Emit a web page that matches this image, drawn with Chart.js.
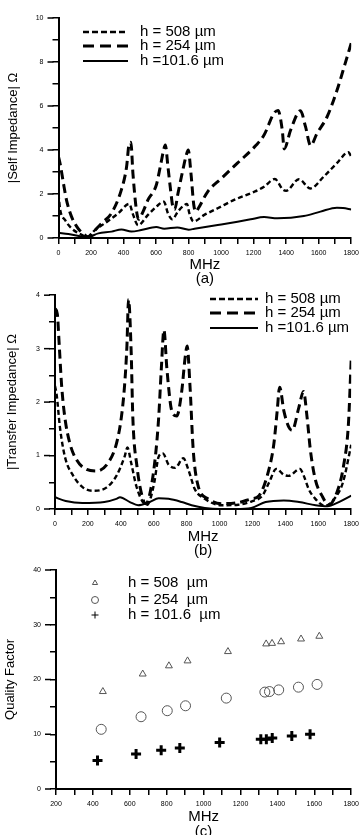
<!DOCTYPE html>
<html><head><meta charset="utf-8">
<script src="https://cdn.jsdelivr.net/npm/chart.js@4/dist/chart.umd.min.js"></script>
<style>
html,body{margin:0;padding:0;background:#fff;overflow:hidden;width:364px;height:835px;}
.p{position:absolute;left:0;width:364px;}
canvas{display:block;}
</style></head><body>
<div class="p" style="top:0px"><canvas id="ca" width="364" height="290"></canvas></div>
<div class="p" style="top:282px"><canvas id="cb" width="364" height="280"></canvas></div>
<div class="p" style="top:555px"><canvas id="cc" width="364" height="290"></canvas></div>
<script>
// ---------- DATA ----------
// Panel (a): |Self Impedance| (Ohm) vs MHz
const freqA254 = [0, 12, 30, 50, 80, 120, 165, 185, 205, 265, 326, 387, 418, 435, 445, 458, 479, 492, 520, 550, 601, 630, 645, 657, 673, 689, 703, 715, 734, 765, 785, 798, 815, 832, 845, 860, 917, 1000, 1100, 1213, 1264, 1325, 1350, 1376, 1388, 1427, 1488, 1519, 1550, 1590, 1651, 1712, 1763, 1800];
const selfA254 = [3.7, 3.3, 2.5, 1.7, 0.97, 0.44, 0.12, 0.05, 0.2, 0.67, 1.13, 2.2, 3.2, 4.3, 4.35, 2.9, 1.27, 0.85, 1.2, 1.73, 2.4, 3.4, 3.95, 4.23, 3.24, 2.2, 1.42, 1.3, 2.0, 3.1, 3.75, 4.0, 2.9, 1.5, 1.2, 1.35, 2.1, 2.7, 3.4, 4.2, 4.68, 5.67, 5.8, 4.9, 4.05, 4.9, 5.78, 5.06, 4.2, 4.76, 5.5, 6.7, 7.94, 8.85];
const freqA508 = [0, 10, 40, 80, 143, 175, 224, 285, 367, 435, 459, 489, 550, 601, 648, 673, 700, 734, 775, 790, 805, 830, 897, 979, 1080, 1203, 1264, 1330, 1380, 1400, 1478, 1549, 1631, 1712, 1783, 1800];
const selfA508 = [2.0, 1.3, 0.82, 0.44, 0.14, 0.05, 0.36, 0.67, 1.12, 1.55, 1.05, 0.58, 1.05, 1.42, 1.65, 1.12, 0.85, 1.2, 1.5, 1.55, 1.12, 0.75, 1.05, 1.35, 1.73, 2.1, 2.33, 2.68, 2.2, 2.15, 2.67, 2.25, 2.79, 3.4, 3.9, 3.7];
const freqA101 = [0, 61, 143, 175, 245, 326, 387, 448, 509, 601, 650, 730, 800, 836, 979, 1101, 1182, 1264, 1346, 1509, 1611, 1712, 1750, 1800];
const selfA101 = [0.24, 0.18, 0.06, 0.03, 0.21, 0.29, 0.39, 0.29, 0.36, 0.5, 0.42, 0.48, 0.38, 0.42, 0.59, 0.74, 0.85, 0.95, 0.9, 1.0, 1.2, 1.38, 1.36, 1.3];

// Panel (b): |Transfer Impedance| (Ohm) vs MHz
const freqB254 = [0, 14, 26, 40, 60, 91, 131, 192, 252, 322, 373, 403, 423, 437, 447, 463, 473, 498, 534, 552, 574, 610, 630, 646, 662, 680, 710, 740, 770, 790, 803, 820, 840, 870, 931, 1012, 1113, 1193, 1240, 1300, 1330, 1350, 1365, 1391, 1421, 1441, 1482, 1510, 1532, 1552, 1582, 1622, 1663, 1713, 1753, 1783, 1800];
const transB254 = [3.75, 3.65, 3.05, 2.32, 1.71, 1.22, 0.92, 0.74, 0.71, 0.86, 1.22, 1.71, 2.32, 3.05, 3.92, 2.93, 1.71, 0.8, 0.19, 0.1, 0.25, 0.98, 1.71, 2.62, 3.35, 2.62, 1.83, 1.74, 2.2, 2.81, 3.05, 2.32, 1.1, 0.43, 0.19, 0.1, 0.12, 0.19, 0.25, 0.74, 1.22, 1.83, 2.28, 1.83, 1.53, 1.47, 1.9, 2.2, 1.71, 1.1, 0.55, 0.25, 0.08, 0.31, 0.8, 1.59, 2.8];
const freqB508 = [0, 10, 30, 60, 111, 171, 232, 312, 373, 423, 440, 463, 494, 534, 560, 575, 603, 630, 655, 690, 730, 780, 810, 850, 910, 1012, 1113, 1193, 1260, 1300, 1345, 1391, 1420, 1488, 1512, 1542, 1582, 1640, 1700, 1750, 1800];
const transB508 = [2.3, 2.14, 1.53, 0.98, 0.62, 0.4, 0.34, 0.4, 0.62, 0.98, 1.15, 0.86, 0.43, 0.13, 0.08, 0.15, 0.49, 0.98, 1.04, 0.83, 0.77, 0.95, 0.74, 0.37, 0.19, 0.07, 0.08, 0.14, 0.25, 0.49, 0.75, 0.64, 0.62, 0.75, 0.62, 0.37, 0.19, 0.06, 0.2, 0.5, 1.2];
const freqB101 = [0, 65, 166, 300, 373, 395, 455, 505, 575, 630, 690, 770, 830, 910, 1000, 1100, 1193, 1280, 1390, 1483, 1584, 1655, 1725, 1800];
const transB101 = [0.22, 0.15, 0.11, 0.13, 0.19, 0.22, 0.13, 0.07, 0.13, 0.2, 0.19, 0.13, 0.07, 0.02, 0.0, 0.0, 0.02, 0.13, 0.16, 0.13, 0.07, 0.05, 0.13, 0.25];

// Panel (c): Quality Factor vs MHz
const freqC508 = [454, 670, 812, 913, 1132, 1339, 1371, 1420, 1528, 1627];
const qC508 = [17.8, 21.0, 22.5, 23.4, 25.1, 26.5, 26.6, 26.9, 27.4, 27.9];
const freqC254 = [445, 661, 803, 902, 1123, 1332, 1357, 1407, 1514, 1615];
const qC254 = [10.9, 13.2, 14.3, 15.2, 16.6, 17.7, 17.8, 18.1, 18.6, 19.1];
const freqC101 = [425, 634, 770, 871, 1087, 1310, 1340, 1372, 1478, 1577];
const qC101 = [5.2, 6.4, 7.1, 7.5, 8.5, 9.1, 9.1, 9.3, 9.7, 10.0];

const labelsAB = ['h = 508 \u00b5m', 'h = 254 \u00b5m', 'h =101.6 \u00b5m'];
const labelsC = ['h = 508  \u00b5m', 'h = 254  \u00b5m', 'h = 101.6  \u00b5m'];
const yTitles = ['|Self Impedance| \u03a9', '|Transfer Impedance| \u03a9', 'Quality Factor'];
const panelTags = ['(a)', '(b)', '(c)'];

// ---------- helpers ----------
const FONT = '"Liberation Sans", Arial, Helvetica, sans-serif';
const pts = (xs, ys) => xs.map((x, i) => ({x: x, y: ys[i]}));
const STY = {
  short: {borderDash: [5, 3], borderWidth: 2.4},
  long: {borderDash: [9, 5], borderWidth: 3},
  solid: {borderDash: [], borderWidth: 2}
};
function lineDs(label, xs, ys, st) {
  return {label: label, data: pts(xs, ys), borderColor: '#000', backgroundColor: '#000',
    borderDash: STY[st].borderDash, borderWidth: STY[st].borderWidth, pointRadius: 0,
    fill: false, tension: 0.4, cubicInterpolationMode: 'monotone', borderCapStyle: 'butt'};
}

function axes(o) {
  return {
    x: {type: 'linear', min: o.xmin, max: o.xmax,
      ticks: {stepSize: 100, autoSkip: false, maxRotation: 0, minRotation: 0, padding: 5, color: '#000',
        font: {family: FONT, size: 7},
        callback: v => (v % 200 === 0 ? String(v) : '')},
      grid: {display: true, drawOnChartArea: false, drawTicks: true, tickLength: 6, color: '#000', lineWidth: 1.5},
      border: {display: true, color: '#000', width: 2},
      title: {display: true, text: ['MHz', o.tag], color: '#000',
        font: {family: FONT, size: 15, lineHeight: o.xlh}, padding: {top: 0, bottom: o.xpb}},
      afterFit: s => { s.height = o.xh; }
    },
    y: {type: 'linear', min: o.ymin, max: o.ymax,
      ticks: {stepSize: o.yminor, autoSkip: false, padding: 9, color: '#000',
        font: {family: FONT, size: 7},
        callback: v => (Math.abs(v % o.ymajor) < 1e-9 ? String(v) : '')},
      grid: {display: true, drawOnChartArea: false, drawTicks: true, tickLength: 6, color: '#000', lineWidth: 1.5},
      border: {display: true, color: '#000', width: 2},
      title: {display: true, text: o.ytitle, color: '#000',
        font: {family: FONT, size: 13}, padding: {top: o.ytp, bottom: 0}},
      afterFit: s => { s.width = o.yw; }
    }
  };
}

const majorTicks = {
  id: 'majorTicks',
  afterDraw(chart, args, opts) {
    const y = chart.scales.y, ctx = chart.ctx;
    ctx.save(); ctx.strokeStyle = '#000'; ctx.lineWidth = 1.5;
    y.ticks.forEach(t => {
      if (Math.abs(t.value % opts.major) < 1e-9) {
        const py = y.getPixelForValue(t.value);
        ctx.beginPath(); ctx.moveTo(y.right - 11, py); ctx.lineTo(y.right - 5, py); ctx.stroke();
      }
    });
    ctx.restore();
  }
};

const legendDraw = {
  id: 'legendDraw',
  afterDraw(chart, args, o) {
    const ctx = chart.ctx;
    ctx.save();
    ctx.font = o.fontSize + 'px ' + FONT;
    ctx.fillStyle = '#000';
    ctx.textBaseline = 'middle';
    ctx.textAlign = 'left';
    chart.data.datasets.forEach((ds, i) => {
      const yy = o.ys[i];
      if (o.kind === 'line') {
        ctx.save();
        ctx.strokeStyle = '#000';
        ctx.lineWidth = ds.borderWidth;
        ctx.setLineDash(o.dashes[i]);
        ctx.beginPath(); ctx.moveTo(o.x0, yy); ctx.lineTo(o.x1, yy); ctx.stroke();
        ctx.restore();
      } else {
        ctx.save();
        ctx.strokeStyle = ds.borderColor; ctx.fillStyle = 'rgba(0,0,0,0)';
        Chart.helpers.drawPoint(ctx, {pointStyle: ds.pointStyle, radius: o.radii[i], borderWidth: o.bws[i], rotation: 0}, o.mx, yy);
        ctx.restore();
      }
      ctx.fillText(ds.label, o.tx, yy);
    });
    ctx.restore();
  }
};

// ---------- Panel (a) ----------
new Chart(document.getElementById('ca'), {
  type: 'line',
  data: {datasets: [
    lineDs(labelsAB[0], freqA508, selfA508, 'short'),
    lineDs(labelsAB[1], freqA254, selfA254, 'long'),
    lineDs(labelsAB[2], freqA101, selfA101, 'solid')
  ]},
  options: {
    responsive: false, animation: false, devicePixelRatio: 1,
    layout: {padding: {left: 0, right: 11, top: 18, bottom: 0}},
    plugins: {legend: {display: false}, tooltip: {enabled: false},
      majorTicks: {major: 2},
      legendDraw: {kind: 'line', x0: 83, x1: 128, tx: 140, ys: [32, 46, 61], fontSize: 15,
        dashes: [[6, 3], [11, 6], []]}},
    scales: axes({xmin: 0, xmax: 1800, ymin: 0, ymax: 10, yminor: 1, ymajor: 2, tag: panelTags[0],
      ytitle: yTitles[0], ytp: 6, yw: 58.5, xh: 52, xpb: 4, xlh: '14px'})
  },
  plugins: [majorTicks, legendDraw]
});

// ---------- Panel (b) ----------
new Chart(document.getElementById('cb'), {
  type: 'line',
  data: {datasets: [
    lineDs(labelsAB[0], freqB508, transB508, 'short'),
    lineDs(labelsAB[1], freqB254, transB254, 'long'),
    lineDs(labelsAB[2], freqB101, transB101, 'solid')
  ]},
  options: {
    responsive: false, animation: false, devicePixelRatio: 1,
    layout: {padding: {left: 0, right: 11, top: 8, bottom: 0}},
    plugins: {legend: {display: false}, tooltip: {enabled: false},
      majorTicks: {major: 1},
      legendDraw: {kind: 'line', x0: 210, x1: 258, tx: 265, ys: [17, 31, 46], fontSize: 15,
        dashes: [[6, 3], [11, 6], []]}},
    scales: axes({xmin: 0, xmax: 1800, ymin: 0, ymax: 4, yminor: 0.5, ymajor: 1, tag: panelTags[1],
      ytitle: yTitles[1], ytp: 5, yw: 55, xh: 53, xpb: 4, xlh: '14px'})
  },
  plugins: [majorTicks, legendDraw]
});

// ---------- Panel (c) ----------
new Chart(document.getElementById('cc'), {
  type: 'scatter',
  data: {datasets: [
    {label: labelsC[0], data: pts(freqC508, qC508), pointStyle: 'triangle', pointRadius: 4,
      borderColor: '#555', backgroundColor: 'rgba(0,0,0,0)', pointBorderWidth: 1, borderWidth: 1},
    {label: labelsC[1], data: pts(freqC254, qC254), pointStyle: 'circle', pointRadius: 5,
      borderColor: '#555', backgroundColor: 'rgba(0,0,0,0)', pointBorderWidth: 1, borderWidth: 1},
    {label: labelsC[2], data: pts(freqC101, qC101), pointStyle: 'cross', pointRadius: 5,
      borderColor: '#000', backgroundColor: '#000', pointBorderWidth: 3, borderWidth: 3}
  ]},
  options: {
    responsive: false, animation: false, devicePixelRatio: 1,
    layout: {padding: {left: 0, right: 12, top: 15, bottom: 0}},
    plugins: {legend: {display: false}, tooltip: {enabled: false},
      majorTicks: {major: 10},
      legendDraw: {kind: 'point', mx: 95, tx: 128, ys: [28, 45, 60], fontSize: 15,
        radii: [3, 3.5, 3.5], bws: [1, 1, 2.5]}},
    scales: axes({xmin: 200, xmax: 1800, ymin: 0, ymax: 40, yminor: 5, ymajor: 10, tag: panelTags[2],
      ytitle: yTitles[2], ytp: 3, yw: 56, xh: 56, xpb: 5.5, xlh: '15px'})
  },
  plugins: [majorTicks, legendDraw]
});
</script>
</body></html>
